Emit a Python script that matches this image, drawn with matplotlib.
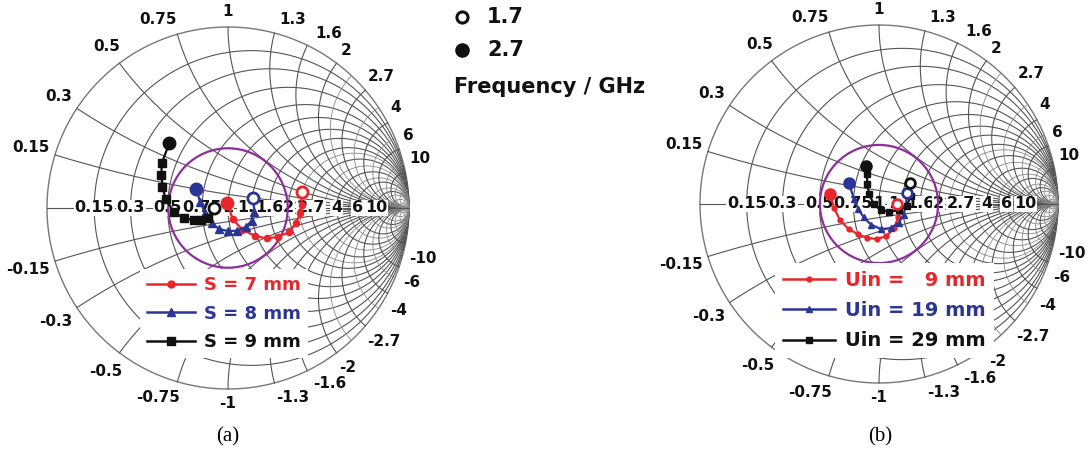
import numpy as np
import matplotlib
matplotlib.use("Agg")
import matplotlib.pyplot as plt
from matplotlib.lines import Line2D

# grid values of the Smith chart
grid_major = [0.15, 0.3, 0.5, 0.75, 1, 1.3, 1.6, 2, 2.7, 4, 6, 10]
grid_minor = [2.3, 3.3, 5, 8, 13, 20, 35, 60, 120]
grid_labels = ['0.15', '0.3', '0.5', '0.75', '1', '1.3', '1.6', '2', '2.7', '4', '6', '10']

# (a) reflection coefficient traces, 1.7 -> 2.7 GHz
a_s7_re = [0.407, 0.407, 0.398, 0.375, 0.335, 0.275, 0.215, 0.150, 0.080, 0.025, -0.004]
a_s7_im = [0.090, 0.015, -0.030, -0.085, -0.135, -0.160, -0.168, -0.155, -0.120, -0.060, 0.030]
a_s8_re = [0.140, 0.145, 0.130, 0.100, 0.050, 0.000, -0.050, -0.090, -0.125, -0.155, -0.175]
a_s8_im = [0.055, -0.020, -0.070, -0.105, -0.125, -0.128, -0.115, -0.085, -0.030, 0.035, 0.105]
a_s9_re = [-0.080, -0.110, -0.150, -0.190, -0.245, -0.300, -0.345, -0.362, -0.368, -0.366, -0.325]
a_s9_im = [0.000, -0.055, -0.068, -0.066, -0.058, -0.020, 0.050, 0.118, 0.185, 0.247, 0.357]

# (b)
b_u9_re = [0.100, 0.108, 0.085, 0.040, -0.010, -0.065, -0.115, -0.170, -0.218, -0.250, -0.272]
b_u9_im = [0.000, -0.070, -0.135, -0.180, -0.195, -0.190, -0.170, -0.140, -0.090, -0.025, 0.055]
b_u19_re = [0.158, 0.150, 0.138, 0.110, 0.065, 0.010, -0.045, -0.085, -0.115, -0.140, -0.168]
b_u19_im = [0.060, 0.000, -0.060, -0.105, -0.135, -0.140, -0.115, -0.075, -0.030, 0.030, 0.115]
b_u29_re = [0.173, 0.178, 0.155, 0.110, 0.055, 0.010, -0.030, -0.055, -0.065, -0.068, -0.070]
b_u29_im = [0.115, 0.045, -0.010, -0.035, -0.043, -0.035, 0.000, 0.055, 0.110, 0.165, 0.212]

a_labels = ['S = 7 mm', 'S = 8 mm', 'S = 9 mm']
b_labels = ['Uin =   9 mm', 'Uin = 19 mm', 'Uin = 29 mm']
vswr_radius = 0.33

RED = '#e8262b'
BLUE = '#2b3596'
BLACK = '#111111'
PURPLE = '#8e2e9c'

W, H = 1089, 454
fig = plt.figure(figsize=(W / 100, H / 100), dpi=100)


def make_axes(cx, cy, R):
    # cx, cy in pixels (cy from bottom), R radius in pixels
    ax = fig.add_axes([(cx - 1.2 * R) / W, (cy - 1.12 * R) / H, 2.4 * R / W, 2.24 * R / H])
    ax.set_xlim(-1.2, 1.2)
    ax.set_ylim(-1.12, 1.12)
    ax.axis('off')
    return ax


def label_angle(th):
    # spread crowded rim labels a little, as the original chart does
    deg = np.degrees(th)
    a = abs(deg)
    sgn = 1 if deg >= 0 else -1
    if 10 < abs(a - 90) < 30:
        a += 4 * np.sign(a - 90)
    elif a < 30:
        a += 3
    return np.radians(sgn * a)


def smith_grid(ax, R):
    t = np.linspace(0, 2 * np.pi, 500)
    ax.plot(np.cos(t), np.sin(t), color='#777777', lw=1.0, zorder=1)
    for r, col, lw in [(v, '#555555', 0.8) for v in grid_major] + [(v, '#888888', 0.6) for v in grid_minor]:
        c, rad = r / (1 + r), 1 / (1 + r)
        ax.plot(c + rad * np.cos(t), rad * np.sin(t), color=col, lw=lw, zorder=1)
    rr = np.tan(np.linspace(0, np.pi / 2 * 0.999, 600))
    for x, col, lw in [(v, '#555555', 0.8) for v in grid_major] + [(v, '#888888', 0.6) for v in grid_minor]:
        for s in (1, -1):
            z = rr + 1j * s * x
            g = (z - 1) / (z + 1)
            ax.plot(g.real, g.imag, color=col, lw=lw, zorder=1)
    ax.plot([-1, 1], [0, 0], color='#555555', lw=0.8, zorder=1)

    # reactance labels around the rim
    for x, lab in zip(grid_major, grid_labels):
        for s, txt in ((1, lab), (-1, '-' + lab)):
            g = (1j * s * x - 1) / (1j * s * x + 1)
            th = label_angle(np.angle(g))
            w = 8.0 * len(txt)
            d = 7 + 0.5 * w * abs(np.cos(th)) + 8 * abs(np.sin(th))
            p = np.exp(1j * th) * (1 + d / R)
            ax.text(p.real, p.imag, txt, ha='center', va='center', fontsize=11,
                    fontweight='bold', color='#111111', clip_on=False, zorder=3)
    # resistance labels on the real axis
    for r, lab in zip(grid_major, grid_labels):
        ax.text((r - 1) / (r + 1), 0, lab, ha='center', va='center', fontsize=11.5,
                fontweight='bold', color='#111111', zorder=3,
                bbox=dict(boxstyle='square,pad=0.05', fc='white', ec='none'))
    ax.add_patch(plt.Circle((0, 0), vswr_radius, fill=False, ec=PURPLE, lw=1.6, zorder=4))


def trace(ax, re, im, color, marker, ms, big):
    ax.plot(re, im, color=color, lw=1.6, marker=marker, ms=ms, zorder=5)
    ax.plot(re[0], im[0], 'o', mfc='white', mec=color, mew=2.0, ms=big, zorder=6)
    ax.plot(re[-1], im[-1], 'o', color=color, ms=big + 1, zorder=6)


def key(ax, labels, specs, anchor, size, hlen):
    handles = [Line2D([], [], color=c, marker=m, ms=ms, lw=1.8) for c, m, ms in specs]
    ax.legend(handles, labels, loc='upper left', bbox_to_anchor=anchor,
              bbox_transform=ax.transData, frameon=True, fancybox=False,
              edgecolor='none', facecolor='white', framealpha=1,
              prop=dict(weight='bold', size=size), labelcolor='linecolor',
              handlelength=hlen, handletextpad=0.5, labelspacing=0.58,
              borderpad=0.4, borderaxespad=0)


# (a)
Ra = 181
ax1 = make_axes(228, 246, Ra)
smith_grid(ax1, Ra)
trace(ax1, a_s7_re, a_s7_im, RED, 'o', 4.5, 8)
trace(ax1, a_s8_re, a_s8_im, BLUE, '^', 6, 8)
trace(ax1, a_s9_re, a_s9_im, BLACK, 's', 6, 8)
key(ax1, a_labels, [(RED, 'o', 5), (BLUE, '^', 6), (BLACK, 's', 6)], (-0.486, -0.337), 13, 2.65)

# (b)
Rb = 179
ax2 = make_axes(879, 250, Rb)
smith_grid(ax2, Rb)
trace(ax2, b_u9_re, b_u9_im, RED, 'o', 3.5, 7)
trace(ax2, b_u19_re, b_u19_im, BLUE, '^', 4.5, 7)
trace(ax2, b_u29_re, b_u29_im, BLACK, 's', 4, 7)
key(ax2, b_labels, [(RED, 'o', 3.5), (BLUE, '^', 5), (BLACK, 's', 4)], (-0.58, -0.33), 14, 2.7)

# frequency key
kx = fig.add_axes([0, 0, 1, 1])
kx.set_xlim(0, W)
kx.set_ylim(H, 0)
kx.axis('off')
kx.plot([462], [17], 'o', mfc='white', mec=BLACK, mew=2.2, ms=8)
kx.plot([462], [50], 'o', color=BLACK, ms=9.5)
kx.text(487, 17, '1.7', fontsize=15, fontweight='bold', va='center', ha='left', color=BLACK)
kx.text(487, 50, '2.7', fontsize=15, fontweight='bold', va='center', ha='left', color=BLACK)
kx.text(454, 87, 'Frequency / GHz', fontsize=15, fontweight='bold', va='center', ha='left', color=BLACK)

# captions
kx.text(228, 437, '(a)', family='Liberation Serif', fontsize=15, ha='center', va='center')
kx.text(880, 437, '(b)', family='Liberation Serif', fontsize=15, ha='center', va='center')

fig.savefig('out.png', dpi=100)
